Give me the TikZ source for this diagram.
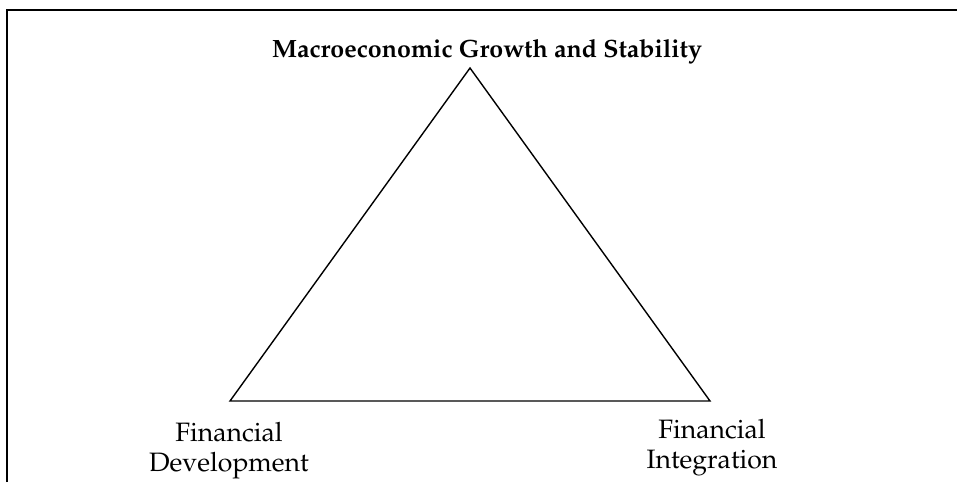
\documentclass[tikz,border=0pt]{standalone}
\usepackage[T1]{fontenc}
\usepackage{mathpazo}
\usepackage{tikz}

\begin{document}
\begin{tikzpicture}[x=0.5pt, y=-0.5pt,
    heading/.style = {font=\fontsize{12.5}{15}\selectfont\bfseries, anchor=base},
    corner/.style = {font=\fontsize{13.3}{15}\selectfont, align=center}]
\useasboundingbox (0,0) rectangle (957,482);
% frame, cut off at the right and at the bottom
\draw[line width=1pt] (7,482) -- (7,10) -- (957,10);
% triangle
\coordinate (apex) at (470,68);
\coordinate (dev) at (230,401);
\coordinate (int) at (710,401);
\draw[line width=0.7pt] (apex) -- (dev) -- (int) -- cycle;
\node[heading] (growth) at (487,57) {Macroeconomic Growth and Stability};
\node[corner] (development) at (229,451) {Financial\\Development};
\node[corner] (integration) at (712,448) {Financial\\Integration};
\end{tikzpicture}
\end{document}
